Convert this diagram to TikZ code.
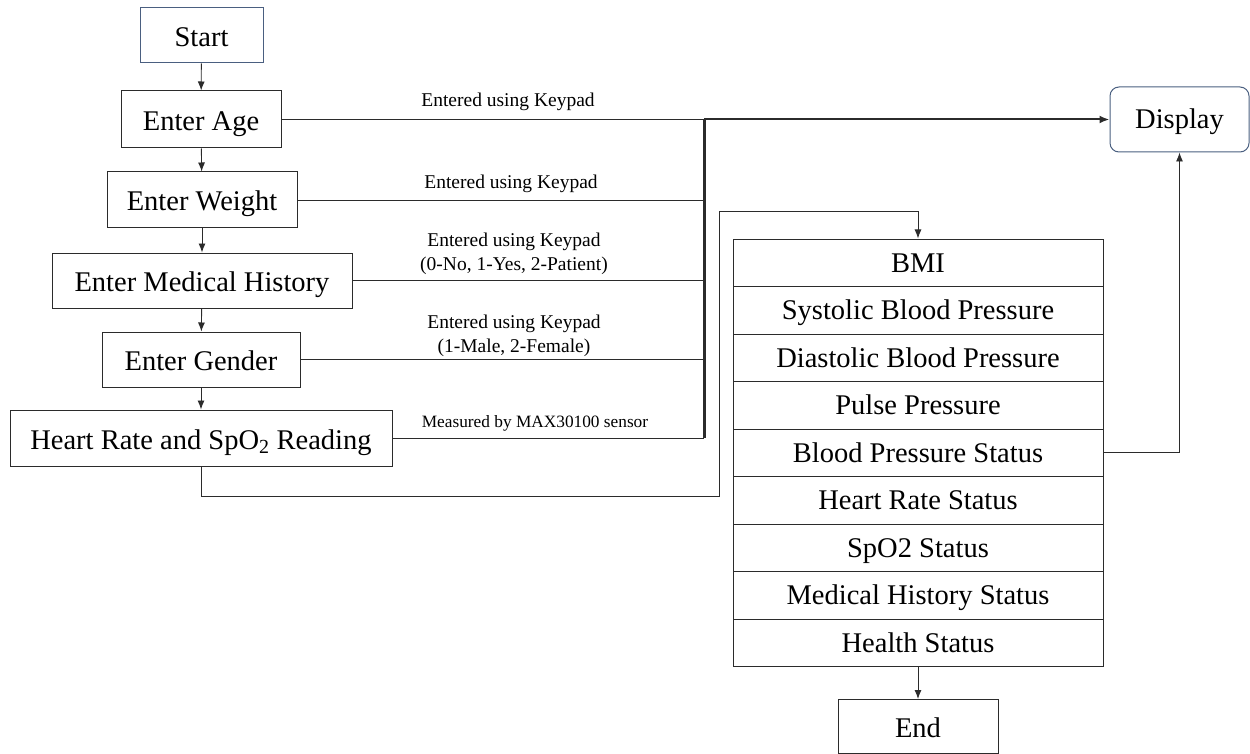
\documentclass[tikz,border=0pt]{standalone}
\usepackage{fontspec}
\setmainfont{Liberation Serif}
\usetikzlibrary{arrows.meta}

\definecolor{edge}{HTML}{4A5F80}
\definecolor{ink}{HTML}{2B2B2B}

\tikzset{
  box/.style={draw=ink, line width=1pt, rectangle, inner sep=0pt,
              minimum height=55pt, text height=24pt, text depth=2pt,
              font=\fontsize{28.5}{34}\selectfont},
  bluebox/.style={box, draw=edge},
  row/.style={box, minimum width=370pt, minimum height=47.5pt,
              text height=22pt, text depth=3pt},
  lbl/.style={align=center, inner sep=0pt, font=\fontsize{19.5}{23.5}\selectfont},
  conn/.style={draw=ink, line width=0.9pt},
  arr/.style={conn, -{Latex[length=9pt,width=7pt]}},
}

\begin{document}
\begin{tikzpicture}[x=1pt,y=-1pt]
\useasboundingbox (0,0) rectangle (1250,754);

% input column
\node[bluebox, minimum width=123pt] (start) at (201.5,35.5) {Start};
\node[box, minimum width=160pt, minimum height=57pt] (age) at (201,119.5) {Enter Age};
\node[box, minimum width=190pt, minimum height=56pt] (weight) at (202,200) {Enter Weight};
\node[box, minimum width=300pt] (hist) at (202,280.5) {Enter Medical History};
\node[box, minimum width=198pt] (gender) at (201,359.5) {Enter Gender};
\node[box, minimum width=382pt, minimum height=56pt] (hr) at (201,438) {Heart Rate and SpO\textsubscript{2} Reading};

\draw[arr] (start) -- (age);
\draw[arr] (age) -- (weight);
\draw[arr] (weight) -- (hist);
\draw[arr] (hist) -- (gender);
\draw[arr] (gender) -- (hr);

% display
\node[bluebox, rounded corners=9pt, minimum width=139pt, minimum height=65pt,
      text height=22pt, text depth=3pt] (disp) at (1179.5,119.5) {Display};

% collecting bus
\coordinate (bt) at (704,119.5);
\draw[conn] (age.east) -- (bt);
\draw[conn] (weight.east) -- (weight.east -| bt);
\draw[conn] (hist.east) -- (hist.east -| bt);
\draw[conn] (gender.east) -- (gender.east -| bt);
\draw[conn] (hr.east) -- (hr.east -| bt);
\draw[draw=ink, line width=3pt] (bt) -- (hr.east -| bt);
\draw[draw=ink, line width=2pt, -{Latex[length=10pt,width=8pt]}] (bt) -- (disp.west);

% connector labels
\node[lbl] (l1) at (508,102) {Entered using Keypad};
\node[lbl] (l2) at (511,184) {Entered using Keypad};
\node[lbl] (l3) at (514,254) {Entered using Keypad\\(0-No, 1-Yes, 2-Patient)};
\node[lbl] (l4) at (514,336) {Entered using Keypad\\(1-Male, 2-Female)};
\node[lbl, font=\fontsize{17.3}{21}\selectfont] (l5) at (535,423) {Measured by MAX30100 sensor};

% results table
\foreach \t [count=\i] in {BMI, Systolic Blood Pressure, Diastolic Blood Pressure,
    Pulse Pressure, Blood Pressure Status, Heart Rate Status, SpO2 Status,
    Medical History Status, Health Status}
  \node[row] (r\i) at (918,215.25+\i*47.5) {\t};

\node[box, minimum width=160pt, minimum height=54pt] (fin) at (918,726.5) {End};

% reading to table
\coordinate (t1) at (719,496);
\coordinate (t2) at (719,211);
\draw[arr] (hr.south) |- (t1) -- (t2) -| (r1.north);

% table to end and display
\draw[arr] (r9.south) -- (fin.north);
\draw[arr] (r5.east) -| (disp.south);
\end{tikzpicture}
\end{document}
